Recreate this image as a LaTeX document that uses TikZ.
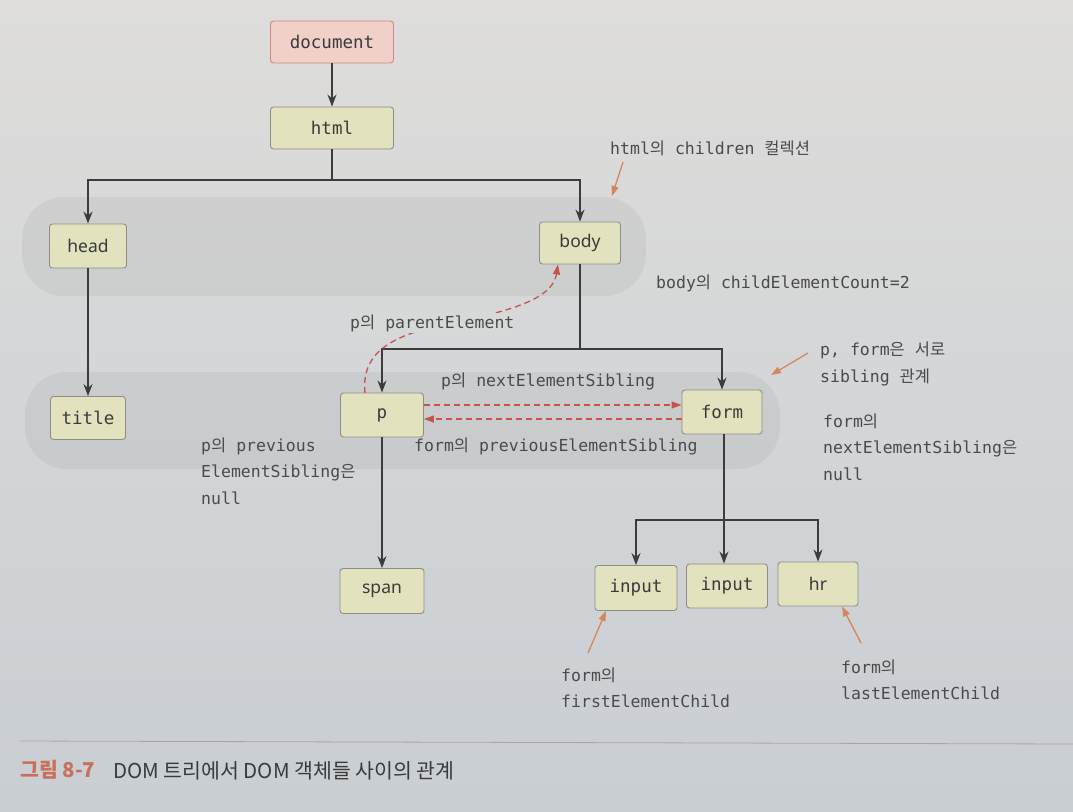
\documentclass[tikz,border=0pt]{standalone}
\usepackage{fontspec}
\setmainfont{Noto Sans}
\setmonofont{DejaVu Sans Mono}
\newfontfamily\kr{Noto Sans CJK KR}
\usetikzlibrary{arrows.meta}
\newcommand{\K}[1]{{\kr #1}}
\definecolor{bgtop}{HTML}{DEDDDB}
\definecolor{bgbot}{HTML}{C9CED3}
\definecolor{bgmid}{HTML}{D7D8D8}
\definecolor{boxfill}{HTML}{E2E2BE}
\definecolor{boxborder}{HTML}{8E8E86}
\definecolor{docfill}{HTML}{F0D0C8}
\definecolor{docborder}{HTML}{C98B80}
\definecolor{txt}{HTML}{3A3A3A}
\definecolor{lbltxt}{HTML}{4A4A4A}
\definecolor{conn}{HTML}{3C3C3C}
\definecolor{redd}{HTML}{C8524C}
\definecolor{orng}{HTML}{D4875A}
\definecolor{capc}{HTML}{C8705A}
\tikzset{
  box/.style={draw=boxborder, fill=boxfill, rounded corners=3pt, line width=0.9pt,
    text=txt, inner sep=0pt},
  monof/.style={font=\ttfamily\fontsize{17.5}{20}\selectfont},
  sansf/.style={font=\fontsize{17.5}{20}\selectfont},
  connector/.style={draw=conn, line width=1.3pt, -{Stealth[length=12pt,width=9pt]}},
  plainline/.style={draw=conn, line width=1.3pt},
  reddash/.style={draw=redd, line width=1.3pt, dash pattern=on 6pt off 4pt,
    -{Triangle[length=10pt,width=7pt]}},
  note/.style={draw=orng, line width=1.3pt, -{Triangle[length=10pt,width=7pt]}},
  lbl/.style={font=\ttfamily\fontsize{16.5}{26.5}\selectfont, text=lbltxt,
    inner sep=0pt, align=left},
  band/.style={fill=black, fill opacity=0.045, rounded corners=42pt}
}
\begin{document}
\begin{tikzpicture}[x=1pt,y=-1pt]
\useasboundingbox (0,0) rectangle (1073,811);
\shade[top color=bgtop, bottom color=bgbot] (0,0) rectangle (1073,811);
% bands
\path[band] (22,197) rectangle (646,296);
\path[band] (25,372) rectangle (780,469);
% nodes
\node[box, monof, draw=docborder, fill=docfill, minimum width=123pt, minimum height=42pt] (document) at (332,42) {document};
\node[box, monof, minimum width=123pt, minimum height=42pt] (html) at (332,128) {html};
\node[box, sansf, minimum width=77pt, minimum height=44pt] (head) at (88,246) {head};
\node[box, sansf, minimum width=81pt, minimum height=42pt] (body) at (580,243) {body};
\node[box, monof, minimum width=75pt, minimum height=43pt] (title) at (88,418) {title};
\node[box, monof, minimum width=83pt, minimum height=44pt] (p) at (382,415) {p};
\node[box, monof, minimum width=80pt, minimum height=44pt] (form) at (722,412) {form};
\node[box, sansf, minimum width=84pt, minimum height=45pt] (span) at (382,591) {span};
\node[box, monof, minimum width=82pt, minimum height=45pt] (in1) at (636,588) {input};
\node[box, monof, minimum width=81pt, minimum height=44pt] (in2) at (727,586) {input};
\node[box, sansf, minimum width=80pt, minimum height=44pt] (hr) at (818,584) {hr};
% connectors
\draw[connector] (document) -- (html);
\coordinate (hsplit) at (332,180);
\draw[plainline] (html.south) -- (hsplit);
\draw[connector] (hsplit) -| (head.north);
\draw[connector] (hsplit) -| (body.north);
\draw[connector] (head.south) -- (head.south |- title.north);
\coordinate (bsplit) at (580,349);
\draw[plainline] (body.south) -- (bsplit);
\draw[connector] (bsplit) -| (p.north);
\draw[connector] (bsplit) -| (form.north);
\draw[connector] (p.south) -- (span.north);
\coordinate (fsplit) at (724,520);
\draw[plainline] (form.south -| fsplit) -- (fsplit);
\draw[connector] (fsplit) -| (in1.north);
\draw[connector] (fsplit) -- (fsplit |- in2.north);
\draw[connector] (fsplit) -| (hr.north);
% labels
\node[lbl, anchor=west] (lchildren) at (610,148) {html\K{의} children \K{컬렉션}};
\node[lbl, anchor=west] (lcount) at (656,283) {body\K{의} childElementCount=2};
\node[lbl, anchor=west] (lnext) at (441,381) {p\K{의} nextElementSibling};
\node[lbl, anchor=west] (lprev) at (414,446) {form\K{의} previousElementSibling};
\node[lbl, anchor=west] (lpnull) at (201,471) {p\K{의} previous\\ElementSibling\K{은}\\null};
\node[lbl, anchor=west] (lsib) at (820,364) {p, form\K{은} \K{서로}\\sibling \K{관계}};
\node[lbl, anchor=west] (lfnull) at (823,447) {form\K{의}\\nextElementSibling\K{은}\\null};
\node[lbl, anchor=west] (lfirst) at (561,688) {form\K{의}\\firstElementChild};
\node[lbl, anchor=west] (llast) at (841,680) {form\K{의}\\lastElementChild};
% red dashed relations
\draw[reddash] (365,393) .. controls (360,345) and (405,332) .. (460,321)
   .. controls (520,309) and (553,296) .. (body.south west -| 558,0);
\node[lbl, anchor=west, fill=bgmid, inner sep=1pt] (lparent) at (349,323) {p\K{의} parentElement};
\draw[reddash] (p.east |- 0,405) -- (form.west |- 0,405);
\draw[reddash] (form.west |- 0,419) -- (p.east |- 0,419);
% orange notes
\coordinate (n1) at (623,162);
\draw[note] (n1) -- (612,196);
\coordinate (n2) at (808,353);
\draw[note] (n2) -- (771,375);
\coordinate (n3) at (588,653);
\draw[note] (n3) -- (in1.south west -| 606,0);
\coordinate (n4) at (861,643);
\draw[note] (n4) -- (hr.south west -| 842,0);
% caption
\draw[draw=gray!70, line width=0.8pt] (20,741) -- (1073,744);
\node[anchor=west, inner sep=0pt, text=capc, font=\kr\bfseries\fontsize{20.5}{23}\selectfont] (capnum) at (20,770) {그림 8-7};
\node[anchor=west, inner sep=0pt, text=txt, font=\kr\fontsize{20.5}{23}\selectfont] (captxt) at (113,771) {DOM 트리에서 DOM 객체들 사이의 관계};
\end{tikzpicture}
\end{document}
